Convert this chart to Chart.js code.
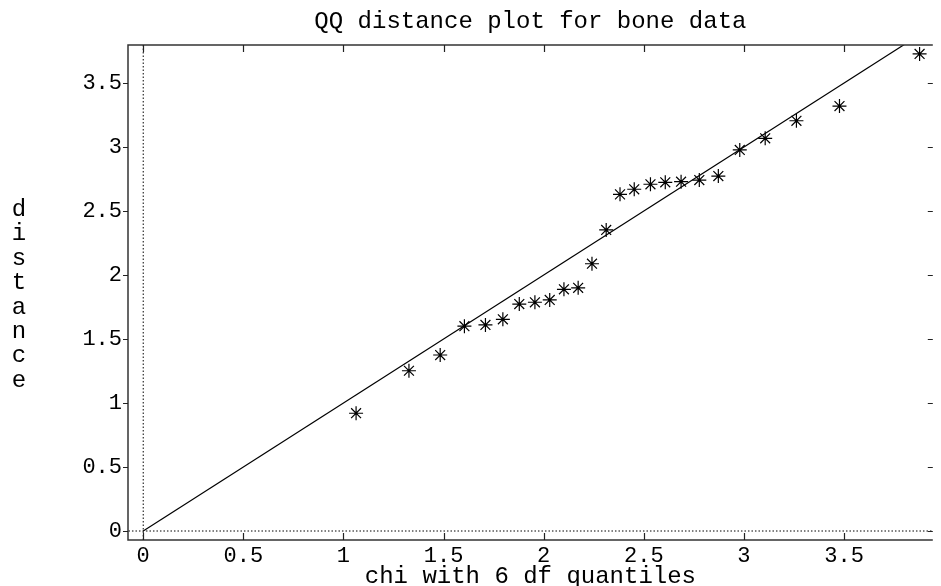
<!DOCTYPE html>
<html>
<head>
<meta charset="utf-8">
<script src="https://cdn.jsdelivr.net/npm/chart.js@4/dist/chart.umd.min.js"></script>
<style>
  html, body { margin: 0; padding: 0; background: #fff; }
  #wrap { width: 941px; height: 586px; }
</style>
</head>
<body>
<div id="wrap"><canvas id="qq-chart" width="941" height="586"></canvas></div>
<script>
// chi(6) quantiles vs. robust distances
var chiQuantiles = [1.063, 1.327, 1.483, 1.604, 1.709, 1.796, 1.878, 1.956, 2.030, 2.101,
                    2.172, 2.241, 2.312, 2.381, 2.452, 2.533, 2.607, 2.686, 2.777, 2.872,
                    2.979, 3.106, 3.262, 3.477, 3.877];
var distances = [0.92, 1.252, 1.375, 1.60, 1.61, 1.654, 1.773, 1.787, 1.805, 1.888,
                 1.90, 2.088, 2.352, 2.630, 2.67, 2.709, 2.724, 2.729, 2.742, 2.773,
                 2.977, 3.068, 3.205, 3.32, 3.727];
var xTicks = [0, 0.5, 1, 1.5, 2, 2.5, 3, 3.5];
var yTicks = [0, 0.5, 1, 1.5, 2, 2.5, 3, 3.5];
var refLine = [0, 4];
var titleText = 'QQ distance plot for bone data';
var xLabel = 'chi with 6 df quantiles';
var yLabel = 'distance';

var FONT = '"Liberation Mono", "Courier New", monospace';

var framePlugin = {
  id: 'frameAndLabels',
  afterDraw: function(chart) {
    var ctx = chart.ctx;
    var a = chart.chartArea;
    var xs = chart.scales.x, ys = chart.scales.y;
    ctx.save();
    // frame (right side falls off the canvas, as in the original)
    ctx.strokeStyle = '#333';
    ctx.lineWidth = 1.5;
    ctx.beginPath();
    ctx.moveTo(a.right, a.top); ctx.lineTo(a.left, a.top);
    ctx.lineTo(a.left, a.bottom); ctx.lineTo(a.right, a.bottom);
    ctx.stroke();
    // tick marks
    ctx.lineWidth = 1.2;
    ctx.strokeStyle = '#222';
    ctx.beginPath();
    xTicks.forEach(function(v) {
      var px = Math.round(xs.getPixelForValue(v)) + 0.5;
      ctx.moveTo(px, a.bottom); ctx.lineTo(px, a.bottom - 7);
      ctx.moveTo(px, a.top); ctx.lineTo(px, a.top + 7);
    });
    yTicks.forEach(function(v) {
      var py = Math.round(ys.getPixelForValue(v)) + 0.5;
      ctx.moveTo(a.left, py); ctx.lineTo(a.left - 5, py);
      ctx.moveTo(a.right, py); ctx.lineTo(a.right - 5, py);
    });
    ctx.stroke();
    // texts
    ctx.fillStyle = '#000';
    ctx.font = '24px ' + FONT;
    ctx.textAlign = 'center';
    ctx.textBaseline = 'alphabetic';
    var cx = (a.left + a.right) / 2;
    ctx.fillText(titleText, cx, 28);
    ctx.fillText(xLabel, cx, 583);
    for (var i = 0; i < yLabel.length; i++) {
      ctx.fillText(yLabel[i], 19, 216 + i * 24.4);
    }
    ctx.restore();
  }
};

var ctx = document.getElementById('qq-chart').getContext('2d');
window.qqChart = new Chart(ctx, {
  type: 'scatter',
  data: {
    datasets: [{
      label: 'distance',
      data: chiQuantiles.map(function(q, i) { return { x: q, y: distances[i] }; }),
      pointStyle: 'star',
      pointRadius: 7,
      pointHoverRadius: 7,
      borderColor: '#000',
      backgroundColor: '#000',
      borderWidth: 1.2,
      order: 1
    }, {
      label: 'y = x',
      type: 'line',
      data: refLine.map(function(v) { return { x: v, y: v }; }),
      borderColor: '#000',
      borderWidth: 1.2,
      pointRadius: 0,
      fill: false,
      order: 2
    }, {
      label: 'x = 0',
      type: 'line',
      data: [{ x: 0, y: -1 }, { x: 0, y: 5 }],
      borderColor: '#000',
      borderWidth: 1,
      borderDash: [1.5, 2],
      pointRadius: 0,
      fill: false,
      order: 3
    }, {
      label: 'y = 0',
      type: 'line',
      data: [{ x: -1, y: 0 }, { x: 5, y: 0 }],
      borderColor: '#000',
      borderWidth: 1,
      borderDash: [1.5, 2],
      pointRadius: 0,
      fill: false,
      order: 3
    }]
  },
  options: {
    responsive: false,
    animation: false,
    layout: { padding: { top: 45, right: 0, left: 0, bottom: 0 } },
    plugins: {
      legend: { display: false },
      title: { display: false },
      tooltip: { enabled: false }
    },
    scales: {
      x: {
        type: 'linear',
        min: -0.076,
        max: 3.943,
        afterBuildTicks: function(scale) {
          scale.ticks = xTicks.map(function(v) { return { value: v }; });
        },
        afterFit: function(scale) { scale.height = 46; },
        grid: { display: false, drawTicks: false },
        border: { display: false },
        ticks: {
          color: '#000',
          padding: 3,
          maxRotation: 0,
          font: { family: FONT, size: 22 },
          callback: function(v) { return String(v); }
        }
      },
      y: {
        type: 'linear',
        min: -0.0703,
        max: 3.797,
        afterBuildTicks: function(scale) {
          scale.ticks = yTicks.map(function(v) { return { value: v }; });
        },
        afterFit: function(scale) { scale.width = 128; },
        grid: { display: false, drawTicks: false },
        border: { display: false },
        ticks: {
          color: '#000',
          padding: 6,
          font: { family: FONT, size: 22 },
          callback: function(v) { return String(v); }
        }
      }
    }
  },
  plugins: [framePlugin]
});
</script>
</body>
</html>
